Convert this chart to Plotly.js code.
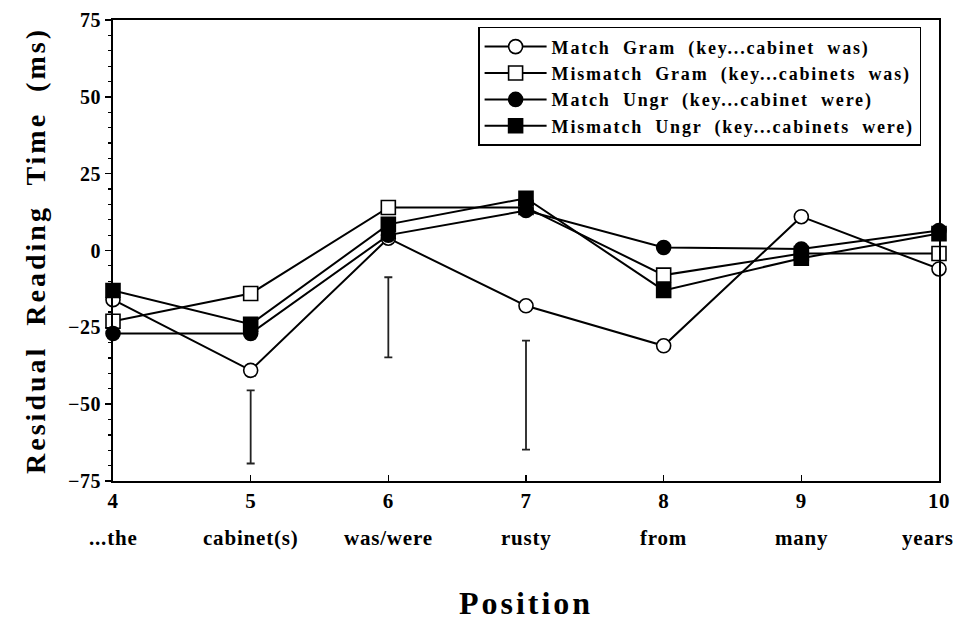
<!DOCTYPE html>
<html>
<head>
<meta charset="utf-8">
<script src="https://cdn.plot.ly/plotly-3.0.1.min.js"></script>
<style>
  html, body { margin: 0; padding: 0; background: #fff; }
  #chart { width: 958px; height: 621px; }
  .legendtext { letter-spacing: 1.8px; word-spacing: 6px; }
  .xtick text, .ytick text { letter-spacing: 0.5px; }
  .g-xtitle text { letter-spacing: 3px; }
  .g-ytitle text { letter-spacing: 3px; word-spacing: 10px; }
  .annotation-text { letter-spacing: 0.8px; }
</style>
</head>
<body>
<div id="chart"></div>
<script>
// ---- data ----
const positions = [4, 5, 6, 7, 8, 9, 10];
const words = ["...the", "cabinet(s)", "was/were", "rusty", "from", "many", "years"];

const matchGram    = [-16, -39, 4, -18, -31, 11, -6];
const mismatchGram = [-23, -14, 14, 14, -8, -1, -1];
const matchUngr    = [-27, -27, 5, 13, 1, 0.5, 6.5];
const mismatchUngr = [-13, -24, 8.5, 17, -13, -2.5, 5.5];

const seriesNames = [
  "Match Gram (key...cabinet was)",
  "Mismatch Gram (key...cabinets was)",
  "Match Ungr (key...cabinet were)",
  "Mismatch Ungr (key...cabinets were)"
];

// error bars drawn below the lines (top and bottom ends)
const errX = [5, 6, 7];
const errTop = [-45.5, -8.7, -29.3];
const errBottom = [-69.3, -34.8, -64.8];

// ---- build ----
const errMid = errTop.map((t, i) => (t + errBottom[i]) / 2);
const errHalf = errTop.map((t, i) => (t - errBottom[i]) / 2);

const serif = "'Liberation Serif', 'Times New Roman', serif";

const traces = [
  {
    x: errX, y: errMid, type: "scatter", mode: "markers",
    marker: { size: 1, color: "rgba(0,0,0,0)" },
    error_y: { type: "data", array: errHalf, visible: true, color: "#222", thickness: 1.8, width: 4 },
    showlegend: false, hoverinfo: "skip", cliponaxis: false
  }
];

const styles = [
  { symbol: "circle", fill: "white" },
  { symbol: "square", fill: "white" },
  { symbol: "circle", fill: "black" },
  { symbol: "square", fill: "black" }
];
const ys = [matchGram, mismatchGram, matchUngr, mismatchUngr];

ys.forEach((y, i) => {
  traces.push({
    x: positions, y: y, type: "scatter", mode: "lines+markers",
    name: seriesNames[i],
    line: { color: "black", width: 2 },
    marker: { symbol: styles[i].symbol, size: 14, color: styles[i].fill, line: { color: "black", width: 1.6 } },
    cliponaxis: false
  });
});

const last = positions.length - 1;
const annotations = positions.map((p, i) => ({
  x: p, xref: "x", y: 0, yref: "paper", yshift: -57,
  xanchor: i === last ? "right" : "center", xshift: i === last ? 17 : 0,
  text: words[i], showarrow: false, yanchor: "middle",
  font: { family: serif, size: 21, color: "black", weight: "bold" }
}));

const layout = {
  width: 958, height: 621,
  margin: { l: 113, r: 19, t: 20, b: 140 },
  paper_bgcolor: "white", plot_bgcolor: "white",
  showlegend: true,
  legend: {
    x: 0.442, y: 0.985, xanchor: "left", yanchor: "top",
    bgcolor: "white", bordercolor: "black", borderwidth: 1.5,
    font: { family: serif, size: 18, color: "black", weight: "bold" },
    tracegroupgap: 0, itemwidth: 62
  },
  xaxis: {
    range: [4, 10], tickvals: positions, ticktext: positions.map(String),
    showgrid: false, zeroline: false,
    showline: true, linecolor: "black", linewidth: 2, mirror: true,
    ticks: "inside", ticklen: 6, tickwidth: 1.5, tickcolor: "black",
    tickfont: { family: serif, size: 21, color: "black", weight: "bold" },
    title: { text: "Position", font: { family: serif, size: 32, color: "black", weight: "bold" }, standoff: 80 }
  },
  yaxis: {
    range: [-75, 75], tickvals: [-75, -50, -25, 0, 25, 50, 75],
    showgrid: false, zeroline: false,
    showline: true, linecolor: "black", linewidth: 2, mirror: true,
    ticks: "outside", ticklen: 6, tickwidth: 1.5, tickcolor: "black",
    minor: { dtick: 5, ticks: "outside", ticklen: 3, tickwidth: 1.2, tickcolor: "black" },
    tickfont: { family: serif, size: 20, color: "black", weight: "bold" },
    title: { text: "Residual Reading Time (ms)", font: { family: serif, size: 28, color: "black", weight: "bold" }, standoff: 14 }
  },
  annotations: annotations
};

Plotly.newPlot("chart", traces, layout, { displayModeBar: false, staticPlot: true });
</script>
</body>
</html>
